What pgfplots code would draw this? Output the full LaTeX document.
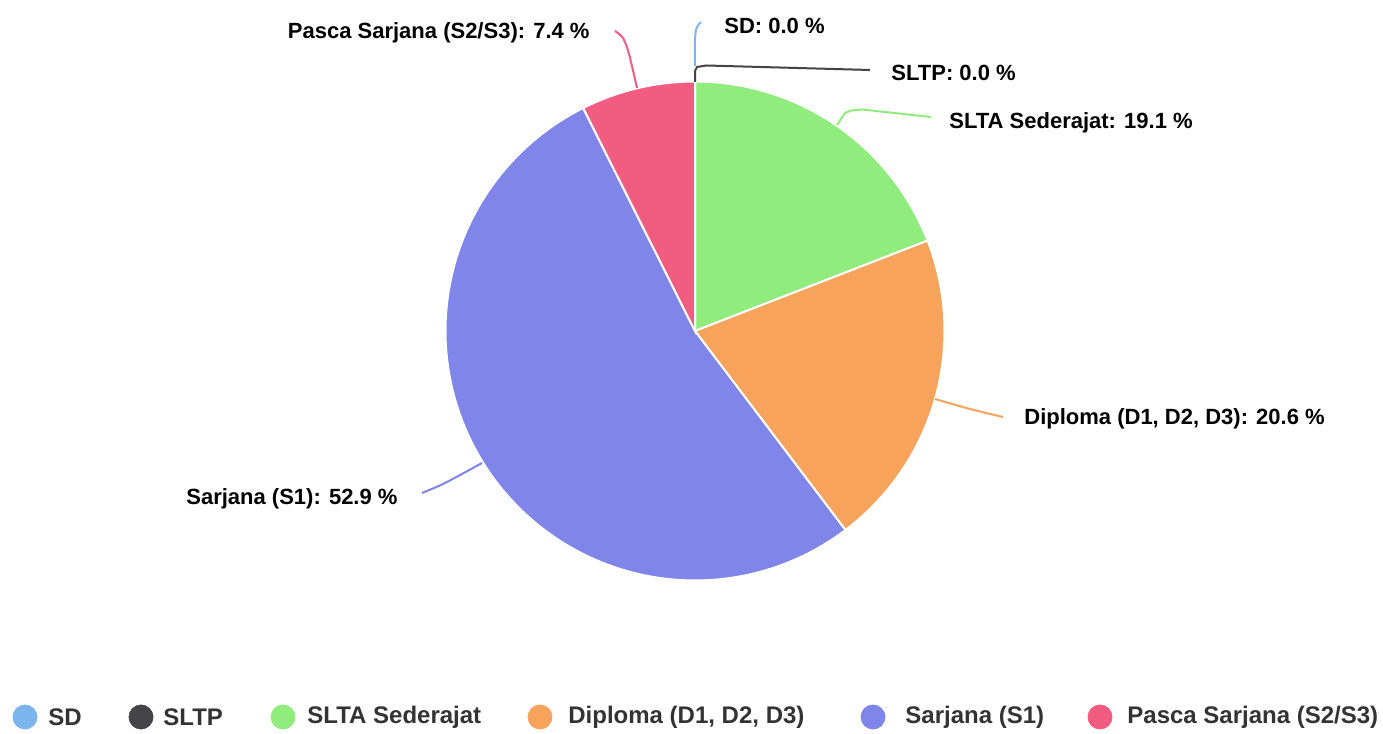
\documentclass[border=0pt]{standalone}
\usepackage{pgfplots}
\pgfplotsset{compat=1.18}
\usepackage{fontspec}
\setmainfont{Liberation Sans}
\definecolor{cSD}{HTML}{7CB5EC}
\definecolor{cSLTP}{HTML}{434348}
\definecolor{cSLTA}{HTML}{90ED7D}
\definecolor{cDip}{HTML}{F7A35C}
\definecolor{cS1}{HTML}{8085E9}
\definecolor{cS2}{HTML}{F15C80}
\definecolor{legtext}{HTML}{333333}
\newcommand\lab{\fontsize{11bp}{13bp}\selectfont\bfseries}
\newcommand\leg{\fontsize{12bp}{14bp}\selectfont\bfseries\color{legtext}}
\begin{document}
\begin{tikzpicture}
\begin{axis}[
  scale only axis, width=691.5bp, height=367bp,
  xmin=0, xmax=1383, ymin=0, ymax=734,
  hide axis, clip=false,
]
\path (rel axis cs:0,0) rectangle (rel axis cs:1,1);
% Pie slices: SD 0.0, SLTP 0.0, SLTA 19.1, Diploma 20.6, S1 52.9, S2/S3 7.4 (percent), clockwise from top
\addplot[fill=cSLTA, draw=white, line width=1bp, domain=21.24:90, samples=60, variable=\t]
  ({695+249.5*cos(\t)},{403+249.5*sin(\t)}) -- (axis cs:695,403) -- cycle;
\addplot[fill=cDip, draw=white, line width=1bp, domain=-52.92:21.24, samples=60, variable=\t]
  ({695+249.5*cos(\t)},{403+249.5*sin(\t)}) -- (axis cs:695,403) -- cycle;
\addplot[fill=cS1, draw=white, line width=1bp, domain=-243.36:-52.92, samples=120, variable=\t]
  ({695+249.5*cos(\t)},{403+249.5*sin(\t)}) -- (axis cs:695,403) -- cycle;
\addplot[fill=cS2, draw=white, line width=1bp, domain=-270:-243.36, samples=30, variable=\t]
  ({695+249.5*cos(\t)},{403+249.5*sin(\t)}) -- (axis cs:695,403) -- cycle;
% connectors
\addplot[cSD, line width=1bp, smooth] coordinates {(695,668) (695,694) (696.5,706) (701,712)};
\addplot[cSLTP, line width=1bp] coordinates {(695,652) (695,663) (697,667) (706,668.5) (870,664)};
\addplot[cSLTA, line width=1bp] coordinates {(837,609) (845,621) (851,623.5) (862,624.5) (931,617)};
\addplot[cDip, line width=1bp, smooth] coordinates {(935,335) (970,325) (1003,317)};
\addplot[cS1, line width=1bp, smooth] coordinates {(482,271) (445,251) (422,241)};
\addplot[cS2, line width=1bp, smooth] coordinates {(637,646) (629,680) (623,696) (615,703)};
% data labels
\node[anchor=west, inner sep=0pt, font=\lab] at (axis cs:724,708) {SD: 0.0 \%};
\node[anchor=west, inner sep=0pt, font=\lab] at (axis cs:891,661) {SLTP: 0.0 \%};
\node[anchor=west, inner sep=0pt, font=\lab] at (axis cs:949,611) {SLTA Sederajat: 19.1 \%};
\node[anchor=west, inner sep=0pt, font=\lab] at (axis cs:1024,315) {Diploma (D1, D2, D3): 20.6 \%};
\node[anchor=west, inner sep=0pt, font=\lab] at (axis cs:186,235) {Sarjana (S1): 52.9 \%};
\node[anchor=east, inner sep=0pt, font=\lab] at (axis cs:590,701) {Pasca Sarjana (S2/S3): 7.4 \%};
% legend
\addplot[only marks, mark=*, mark size=6bp, color=cSD] coordinates {(25,17)};
\addplot[only marks, mark=*, mark size=6bp, color=cSLTP] coordinates {(141,17)};
\addplot[only marks, mark=*, mark size=6bp, color=cSLTA] coordinates {(283,17)};
\addplot[only marks, mark=*, mark size=6bp, color=cDip] coordinates {(540,17)};
\addplot[only marks, mark=*, mark size=6bp, color=cS1] coordinates {(873,17)};
\addplot[only marks, mark=*, mark size=6bp, color=cS2] coordinates {(1100,17)};
\node[anchor=west, inner sep=0pt, font=\leg] at (axis cs:48,17) {SD};
\node[anchor=west, inner sep=0pt, font=\leg] at (axis cs:163,17) {SLTP};
\node[anchor=west, inner sep=0pt, font=\leg] at (axis cs:307,17) {SLTA Sederajat};
\node[anchor=west, inner sep=0pt, font=\leg] at (axis cs:568,17) {Diploma (D1, D2, D3)};
\node[anchor=west, inner sep=0pt, font=\leg] at (axis cs:905,17) {Sarjana (S1)};
\node[anchor=west, inner sep=0pt, font=\leg] at (axis cs:1127,17) {Pasca Sarjana (S2/S3)};
\end{axis}
\end{tikzpicture}
\end{document}
